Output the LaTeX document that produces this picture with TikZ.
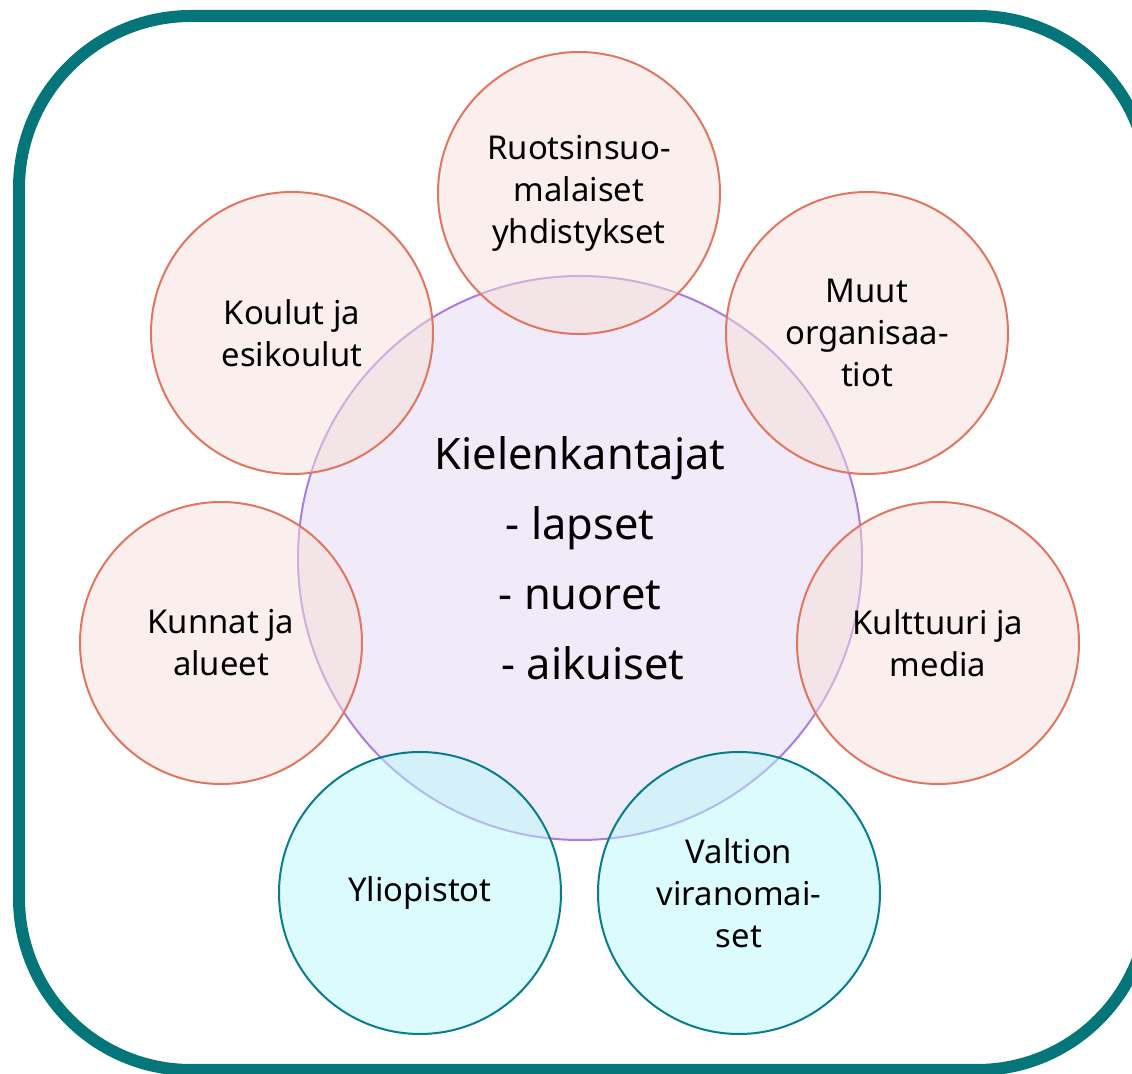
\documentclass[tikz,border=0pt]{standalone}
\usepackage{fontspec}
\setmainfont{Noto Sans}
\usetikzlibrary{positioning}
\definecolor{frameteal}{RGB}{4,118,122}
\definecolor{redline}{RGB}{224,118,96}
\definecolor{redfill}{RGB}{245,223,217}
\definecolor{purpleline}{RGB}{172,124,222}
\definecolor{purplefill}{RGB}{241,234,248}
\definecolor{cyanline}{RGB}{10,125,140}
\definecolor{cyanfill}{RGB}{185,247,251}

\begin{document}
\begin{tikzpicture}[x=0.5pt,y=-0.5pt,
	hub/.style={circle,draw=purpleline,line width=1pt,fill=purplefill,minimum size=282pt,inner sep=0pt,align=center,font=\fontsize{21.7}{35}\selectfont},
	partner/.style={circle,draw=redline,line width=1pt,fill=redfill,fill opacity=0.5,text opacity=1,minimum size=141pt,inner sep=0pt,align=center,font=\fontsize{16.4}{21}\selectfont},
	academic/.style={partner,draw=cyanline,fill=cyanfill}]
		\useasboundingbox (0,0) rectangle (1132,1074);
		\draw[frameteal,line width=6pt,rounded corners=86pt] (19,16) rectangle (1149,1070);
		
		\node[hub] (kieli) at (580,558) {Kielenkantajat\\- lapset\\- nuoret\\\hspace{0.6em}- aikuiset};
		
		\node[partner] (ruotsi) at (579,193) {Ruotsinsuo-\\malaiset\\yhdistykset};
		\node[partner] (koulut) at (292,333) {Koulut ja\\esikoulut};
		\node[partner] (muut) at (867,333) {Muut\\organisaa-\\tiot};
		\node[partner] (kunnat) at (221,643) {Kunnat ja\\alueet};
		\node[partner] (kulttuuri) at (938,643) {Kulttuuri ja\\media};
		\node[academic] (yliopistot) at (420,893) {Yliopistot};
		\node[academic] (valtio) at (739,893) {Valtion\\viranomai-\\set};
		
	\end{tikzpicture}
\end{document}
